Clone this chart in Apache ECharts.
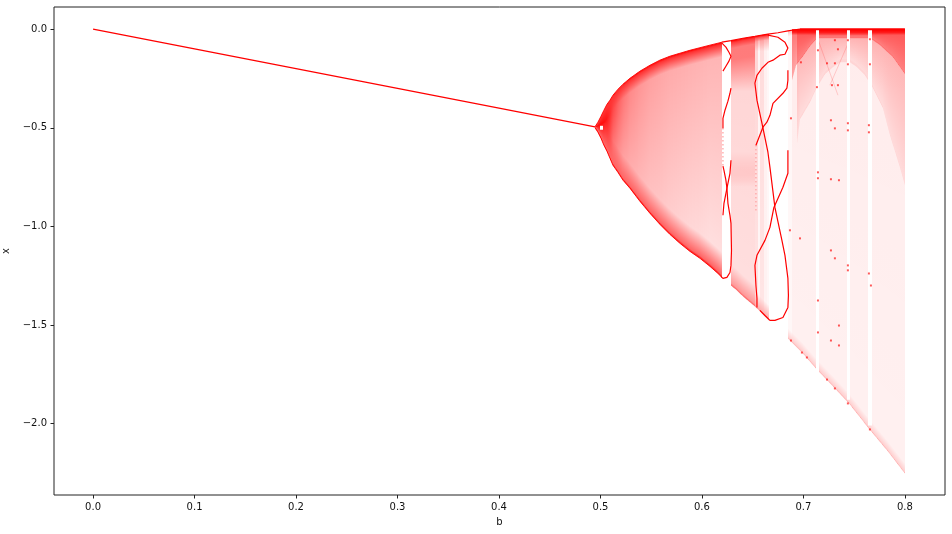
<!DOCTYPE html>
<html><head><meta charset="utf-8">
<style>html,body{margin:0;padding:0;background:#fff}#c{width:952px;height:534px}</style>
<script src="https://cdn.jsdelivr.net/npm/echarts@6/dist/echarts.min.js"></script>
</head><body><div id="c"></div>
<script>
// ---- values (b, x) ----
const bTicks = [0,0.1,0.2,0.3,0.4,0.5,0.6,0.7,0.8];
const xTicks = [0,-0.5,-1,-1.5,-2];

const stableLine = [[0,0],[0.1,-0.1],[0.2,-0.2],[0.3,-0.3],[0.4,-0.4],[0.4946,-0.495]];

// first chaotic fan
const fanB   = [.4946,.4975,.5005,.5034,.5064,.5094,.5123,.5172,.5222,.5291,.5389,.5488,.5586,.5685,.5783,.5882,.5980,.6079,.6158,.6197];
const fanTop = [-.495,-.472,-.442,-.411,-.381,-.360,-.335,-.305,-.279,-.249,-.213,-.183,-.157,-.137,-.122,-.107,-.094,-.081,-.071,-.066];
const fanBot = [-.500,-.523,-.553,-.589,-.619,-.655,-.690,-.726,-.766,-.807,-.873,-.934,-.990,-1.041,-1.086,-1.127,-1.162,-1.203,-1.239,-1.259];
const fanUp  = [.95,.95,.95,.95,.9,.82,.72,.62,.54,.46,.41,.37,.35,.33,.32,.31,.3,.29,.29,.29];
const fanLow = [.95,.95,.95,.9,.82,.7,.56,.46,.38,.33,.29,.25,.23,.2,.18,.16,.15,.13,.13,.13];

// second band
const secondB   = [.6286,.6345,.6404,.6463,.6522];
const secondTop = [-.058,-.053,-.046,-.041,-.036];
const secondBot = [-1.300,-1.325,-1.355,-1.381,-1.406];
const secondFloor = [-.335,-.335,-.335,-.335,-.335];
const secondPatchTop = [-.62,-.62,-.62,-.62,-.62];
const secondPatchBot = [-.80,-.80,-.80,-.80,-.80];

// streaky third band
const thirdB   = [.6522,.6552,.6571,.6611,.6640,.6660];
const thirdTop = [-.036,-.033,-.031,-.028,-.026,-.025];
const thirdBot = [-1.406,-1.421,-1.431,-1.452,-1.467,-1.477];
const thirdUp  = [.16,.04,.14,.06,.03,.03];
const thirdLow = [.11,.04,.1,.05,.03,.03];
const thirdFloor = [-.132,-.132,-.132,-.132,-.132,-.132];

// last chaotic region
const lastB   = [.6847,.6887,.6995,.7123,.7310,.7458,.7635,.7833,.8];
const lastTop = [-.009,-.003,0,0,0,0,0,0,0];
const lastBot = [-1.569,-1.589,-1.645,-1.721,-1.822,-1.904,-2.020,-2.142,-2.254];
const lastUp  = [.03,.075,.075,.075,.075,.075,.075,.075,.075];
const lastLow = [.03,.06,.06,.06,.06,.06,.06,.06,.06];

const arc1B = [.6887,.6926,.6995,.7064,.7133,.7212,.7310,.7458,.7576,.7655,.7754,.7882,.8];
const arc1X = [-.259,-.183,-.137,-.086,-.046,-.046,-.046,-.046,-.046,-.046,-.081,-.142,-.228];
const arc2B = [.6936,.6966,.7064,.7133,.7212,.7291,.7360,.7458,.7527,.7606,.7685,.7783,.7852,.7951,.8];
const arc2X = [-.579,-.457,-.371,-.294,-.228,-.193,-.168,-.168,-.193,-.234,-.299,-.401,-.538,-.701,-.792];

// narrow empty windows: [b from, b to, x top, x bottom]
const gaps = [[.7123,.7153,0,-1.75],[.7429,.7458,0,-1.88],[.7635,.7675,0,-2.01],[.4995,.5020,-.49,-.51]];

// thin stable orbits inside the windows
const orbit1a = [[.6197,-.071],[.6236,-.091],[.6266,-.117],[.6286,-.137],[.6266,-.162],[.6236,-.188],[.6207,-.213]];
const orbit1b = [[.6286,-.299],[.6276,-.325],[.6256,-.365],[.6227,-.411],[.6207,-.452],[.6207,-.503]];
const orbit1c = [[.6286,-.665],[.6276,-.731],[.6246,-.807],[.6217,-.883],[.6207,-.944]];
const orbit1d = [[.6207,-.695],[.6217,-.716],[.6236,-.766],[.6246,-.807],[.6256,-.883],[.6276,-.944],[.6286,-.985],[.6291,-1.122],[.6286,-1.198],[.6276,-1.234],[.6246,-1.259],[.6227,-1.264],[.6207,-1.264],[.6187,-1.254]];
const orbit1dots = [[.6207,-.503],[.6207,-.695]];
const orbit2a = [[.6650,-.030],[.6749,-.041],[.6818,-.066],[.6847,-.096],[.6818,-.127],[.6768,-.132],[.6700,-.157],[.6650,-.168],[.6591,-.198],[.6542,-.234],[.6522,-.274],[.6542,-.360],[.6591,-.477],[.6650,-.624],[.6670,-.701],[.6719,-.904],[.6788,-1.071],[.6818,-1.147],[.6847,-1.264],[.6852,-1.350],[.6847,-1.411],[.6798,-1.462],[.6719,-1.477],[.6670,-1.477],[.6621,-1.452],[.6571,-1.426]];
const orbit2b = [[.6847,-.208],[.6847,-.259],[.6837,-.299],[.6798,-.325],[.6700,-.376],[.6670,-.437],[.6640,-.472],[.6601,-.497],[.6532,-.589]];
const orbit2c = [[.6847,-.614],[.6847,-.731],[.6798,-.802],[.6709,-.904],[.6670,-1.005],[.6621,-1.071],[.6542,-1.147],[.6522,-1.198],[.6532,-1.300],[.6542,-1.365],[.6542,-1.411]];
const orbit2dots = [[.6532,-.589],[.6532,-.934]];

const upperEdge = [[.6197,-.066],[.6286,-.058],[.6404,-.046],[.6522,-.036],[.6650,-.025],[.6749,-.018],[.6847,-.009],[.6916,-.003],[.6966,0]];
const topRow = [[.6966,0],[.8,0]];

const faint1 = [[.7458,-.051],[.7261,-.284]];
const faint2 = [[.7143,-.051],[.7340,-.335]];

const spots = [[.7143,-.107],[.7133,-.294],[.6975,-.168],[.7438,-.178],[.7438,-.056],[.7655,-.178],[.7655,-.051],[.7281,-.284],[.7340,-.284],[.7340,-.102],[.7310,-.056],[.7232,-.173],[.7310,-.173],[.7438,-.477],[.7438,-.513],[.7645,-.487],[.7645,-.523],[.7310,-.503],[.7271,-.462],[.6877,-.452],[.7143,-.756],[.7143,-.726],[.7271,-.761],[.7350,-.766],[.7438,-1.198],[.7438,-1.223],[.7645,-1.239],[.7665,-1.300],[.7143,-1.376],[.7143,-1.538],[.7310,-1.162],[.6867,-1.020],[.6966,-1.061],[.7271,-1.122],[.6877,-1.579],[.6985,-1.640],[.7034,-1.665],[.7271,-1.579],[.7350,-1.604],[.7350,-1.503],[.7310,-1.822],[.7438,-1.898],[.7655,-2.030],[.7232,-1.777]];

// ---- drawing ----
const red = a => 'rgba(255,0,0,' + a.toFixed(3) + ')';
let zNext = 2;
// each read column pair is painted as 1px slices so the shading is continuous
function band(name, b, top, bot, up, low, o) {
  const segs = [];
  const val = (a, i) => Array.isArray(a) ? a[i] : a;
  for (let i = 0; i < b.length - 1; i++) {
    const j = o.smooth ? i + 1 : i;
    segs.push([b[i], top[i], bot[i], b[i+1], top[i+1], bot[i+1], val(up,i), val(up,j), val(low,i), val(low,j)]);
  }
  return {
    type: 'custom', name, coordinateSystem: 'cartesian2d', silent: true, z: zNext++,
    clip: true, animation: false, data: segs,
    renderItem(params, api) {
      const s = segs[params.dataIndex];
      const p = [[s[0],s[1]],[s[3],s[4]],[s[3],s[5]],[s[0],s[2]]].map(v => api.coord(v));
      const xa = Math.round(p[0][0]), xb = Math.round(p[1][0]);
      if (xb <= xa) return null;
      const children = [];
      for (let px = xa; px < xb; px++) {
        const f0 = (px - xa) / (xb - xa), f1 = (px + 1 - xa) / (xb - xa), fm = (f0 + f1) / 2;
        const t0 = s[1] + (s[4]-s[1])*f0, t1 = s[1] + (s[4]-s[1])*f1;
        const b0 = s[2] + (s[5]-s[2])*f0, b1 = s[2] + (s[5]-s[2])*f1;
        const hi = Math.max(t0,t1), lo = Math.min(b0,b1), h = hi - lo;
        let ft = o.fadeTop / h, fb = o.fadeBot / h;
        if (ft + fb > 0.98) { const k = 0.98 / (ft + fb); ft *= k; fb *= k; }
        const nt = Math.min(o.nearTop / h, ft), nb = Math.min(o.nearBot / h, fb);
        const u = s[6] + (s[7]-s[6])*fm, l = s[8] + (s[9]-s[8])*fm;
        const colorStops = [
          {offset:0, color:red(o.edgeTop)},
          {offset:nt, color:red(o.aTop)},
          {offset:ft, color:red(u)},
          {offset:1-fb, color:red(l)},
          {offset:1-nb, color:red(o.aBot)},
          {offset:1, color:red(o.edgeBot)}
        ];
        const yT0 = api.coord([s[0],t0])[1], yT1 = api.coord([s[0],t1])[1];
        const yB0 = api.coord([s[0],b0])[1], yB1 = api.coord([s[0],b1])[1];
        children.push({
          type: 'polygon',
          shape: {points: [[px,yT0],[px+1,yT1],[px+1,yB1],[px,yB0]]},
          style: {fill: {type:'linear',x:0,y:0,x2:0,y2:1,colorStops}}
        });
      }
      return {type:'group', children};
    }
  };
}
function gapSeries() {
  return {
    type:'custom', coordinateSystem:'cartesian2d', silent:true, z:zNext++, animation:false, data:gaps,
    renderItem(params, api) {
      const g = gaps[params.dataIndex];
      const a = api.coord([g[0],g[2]]), c = api.coord([g[1],g[3]]);
      return {type:'rect', shape:{x:Math.round(a[0]),y:a[1],width:Math.round(c[0])-Math.round(a[0]),height:c[1]-a[1]}, style:{fill:'#fff'}};
    }
  };
}
function line(data, width, opacity, dashed) {
  return {type:'line', data, showSymbol:false, silent:true, animation:false, z:zNext++,
    lineStyle:{color:'#f00', width, opacity, type: dashed ? [1,3] : 'solid'}};
}

const series = [];
series.push(band('fan', fanB, fanTop, fanBot, fanUp, fanLow,
  {smooth:true,edgeTop:1,aTop:.8,nearTop:.012,fadeTop:.075,edgeBot:1,aBot:.6,nearBot:.015,fadeBot:.13}));
series.push(band('second', secondB, secondTop, secondBot, .17, .13,
  {edgeTop:1,aTop:.6,nearTop:.012,fadeTop:.04,edgeBot:.7,aBot:.4,nearBot:.015,fadeBot:.11}));
series.push(band('secondUpper', secondB, secondTop, secondFloor, .42, .0,
  {edgeTop:.4,aTop:.42,nearTop:.01,fadeTop:.1,edgeBot:0,aBot:0,nearBot:.01,fadeBot:.02}));
series.push(band('secondPatch', secondB, secondPatchTop, secondPatchBot, .08, .08,
  {edgeTop:0,aTop:.05,nearTop:.05,fadeTop:.09,edgeBot:0,aBot:.05,nearBot:.03,fadeBot:.06}));
series.push(band('third', thirdB, thirdTop, thirdBot, thirdUp, thirdLow,
  {edgeTop:1,aTop:.5,nearTop:.012,fadeTop:.03,edgeBot:.5,aBot:.3,nearBot:.015,fadeBot:.08}));
series.push(band('thirdUpper', thirdB, thirdTop, thirdFloor, .25, 0,
  {edgeTop:.3,aTop:.28,nearTop:.01,fadeTop:.03,edgeBot:0,aBot:0,nearBot:.01,fadeBot:.02}));
series.push(band('last', lastB, lastTop, lastBot, lastUp, lastLow,
  {edgeTop:.3,aTop:.2,nearTop:.01,fadeTop:.03,edgeBot:.36,aBot:.18,nearBot:.012,fadeBot:.055}));
series.push(band('arc2', arc2B, arc2B.map(() => 0), arc2X, .28, .08,
  {smooth:true,edgeTop:.28,aTop:.28,nearTop:.01,fadeTop:.02,edgeBot:.1,aBot:.1,nearBot:.01,fadeBot:.02}));
series.push(band('arc1', arc1B, arc1B.map(() => 0), arc1X, .48, .3,
  {smooth:true,edgeTop:1,aTop:.85,nearTop:.016,fadeTop:.03,edgeBot:.3,aBot:.38,nearBot:.006,fadeBot:.012}));
series.push(line(faint1, 1, .16));
series.push(line(faint2, 1, .16));
series.push(gapSeries());
series.push(line(stableLine, 1.3, 1));
series.push(line(fanB.map((v,i)=>[v,fanTop[i]]), 1, .9));
series.push(line(fanB.map((v,i)=>[v,fanBot[i]]), 1, .9));
series.push(line(upperEdge, 1.2, 1));
series.push(line(topRow, 2, 1));
[orbit1a,orbit1b,orbit1c,orbit1d,orbit2a,orbit2b,orbit2c].forEach(o => series.push(line(o, 1.2, 1)));
series.push(line(orbit1dots, 1, .7, true));
series.push(line(orbit2dots, 1, .5, true));
series.push({type:'scatter', data:spots, symbol:'rect', symbolSize:2, silent:true, animation:false, z:zNext++,
  itemStyle:{color:'#f00', opacity:.65}});

const textCol = '#111';
const fmt = v => (v < 0 ? '\u2212' : '') + Math.abs(v).toFixed(1);
const chart = echarts.init(document.getElementById('c'), null, {renderer:'canvas'});
chart.setOption({
  animation:false,
  backgroundColor:'#fff',
  grid:{left:54,right:7,top:7,bottom:39,outerBoundsMode:'none',show:true,borderColor:'#222',borderWidth:1,backgroundColor:'#fff'},
  xAxis:{type:'value',min:-0.0385,max:0.8395,name:'b',nameLocation:'middle',nameGap:22,
    nameTextStyle:{color:textCol,fontFamily:'DejaVu Sans',fontSize:10},
    axisLine:{show:false,onZero:false},splitLine:{show:false},
    axisTick:{show:true,length:3.5,lineStyle:{color:'#222'},customValues:bTicks},
    axisLabel:{color:textCol,fontFamily:'DejaVu Sans',fontSize:10,margin:7,customValues:bTicks,formatter:fmt}},
  yAxis:{type:'value',min:-2.3625,max:0.1125,name:'x',nameLocation:'middle',nameGap:35,
    nameTextStyle:{color:textCol,fontFamily:'DejaVu Sans',fontSize:10},
    axisLine:{show:false,onZero:false},splitLine:{show:false},
    axisTick:{show:true,length:3.5,lineStyle:{color:'#222'},customValues:xTicks},
    axisLabel:{color:textCol,fontFamily:'DejaVu Sans',fontSize:10,margin:7,customValues:xTicks,formatter:fmt}},
  series
});
</script></body></html>
